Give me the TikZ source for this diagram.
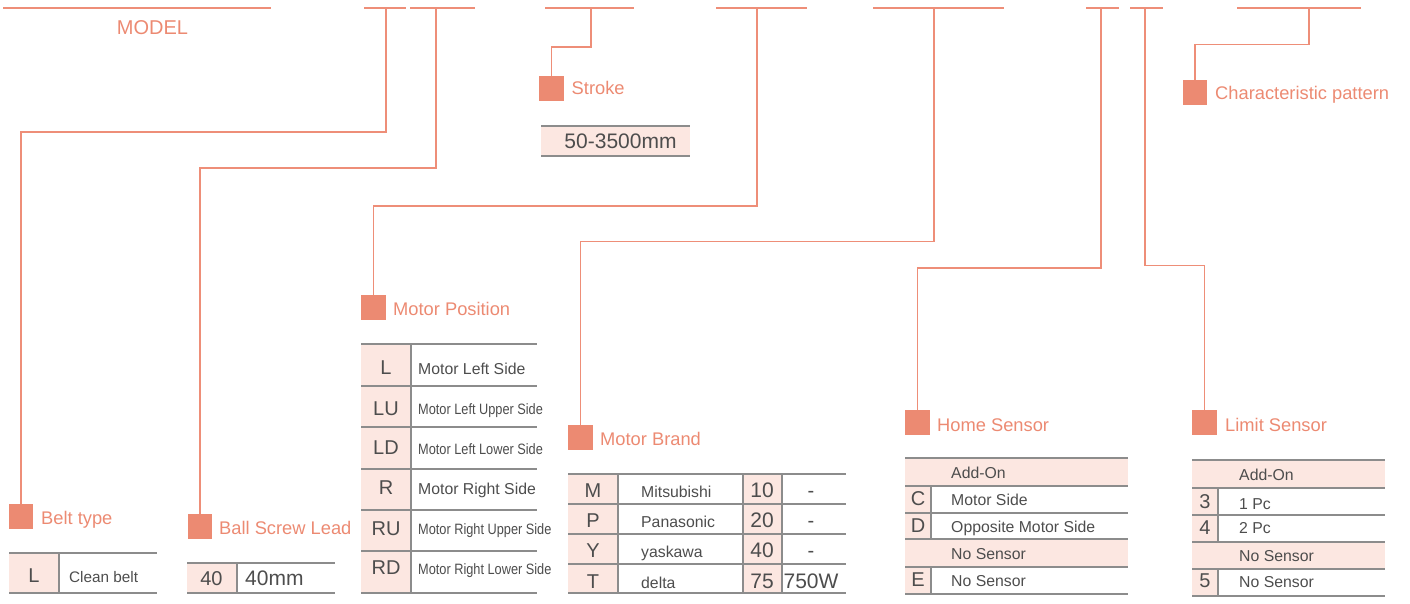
\documentclass[tikz,border=0pt]{standalone}
\usepackage{fontspec}
\setmainfont{Liberation Sans}
\usepackage{graphicx}
\definecolor{sal}{HTML}{EC8A72}
\definecolor{salline}{HTML}{EE8E78}
\definecolor{pinkc}{HTML}{FCE7E1}
\definecolor{grayl}{HTML}{8C8C8C}
\definecolor{txt}{HTML}{4D4D4D}
\tikzset{
  conn/.style={draw=salline, line width=1.5pt},
  topline/.style={draw=salline, line width=1.5pt},
  sq/.style={fill=sal, minimum size=24.5pt, inner sep=0pt, outer sep=0pt},
  lab/.style={text=sal, font=\fontsize{18.3}{20}\selectfont, anchor=base west, inner sep=0pt},
  code/.style={text=txt, font=\fontsize{20}{22}\selectfont, anchor=base, inner sep=0pt},
  desc/.style={text=txt, font=\fontsize{15.8}{17}\selectfont, anchor=base west, inner sep=0pt},
  tl/.style={draw=grayl, line width=1.6pt},
  tk/.style={draw=grayl, line width=2.2pt},
  pk/.style={fill=pinkc},
}
\begin{document}
\begin{tikzpicture}[x=1pt,y=-1pt]
\useasboundingbox (0,0) rectangle (1410,604);

% ---------- top lines ----------
\draw[topline] (3,8) -- (271,8);
\node[text=sal, font=\fontsize{20}{22}\selectfont, anchor=base, inner sep=0pt] (model) at (152.5,35) {MODEL};
\draw[topline] (364,8) -- (406,8);
\draw[topline] (410,8) -- (475,8);
\draw[topline] (545,8) -- (634,8);
\draw[topline] (716,8) -- (807,8);
\draw[topline] (873,8) -- (1004,8);
\draw[topline] (1086,8) -- (1119,8);
\draw[topline] (1130,8) -- (1163,8);
\draw[topline] (1237,8) -- (1361,8);
\coordinate (v1) at (386,8);
\coordinate (v2) at (436,8);
\coordinate (v3) at (591,8);
\coordinate (v4) at (757,8);
\coordinate (v5) at (934,8);
\coordinate (v6) at (1101,8);
\coordinate (v7) at (1145,8);
\coordinate (v8) at (1309,8);

% ---------- label squares ----------
\node[sq] (sqBelt) at (21,516.5) {};
\node[lab] (lbBelt) at (41,524) {Belt type};
\node[sq] (sqBall) at (200,526.5) {};
\node[lab] (lbBall) at (219,534.3) {Ball Screw Lead};
\node[sq] (sqStroke) at (551.5,88.5) {};
\node[lab] (lbStroke) at (571.5,95) {Stroke};
\node[sq] (sqChar) at (1195,92.5) {};
\node[lab] (lbChar) at (1215,100) {Characteristic pattern};
\node[sq] (sqPos) at (373.5,307.5) {};
\node[lab] (lbPos) at (393,315) {Motor Position};
\node[sq] (sqBrand) at (580.5,437.5) {};
\node[lab] (lbBrand) at (600,445) {Motor Brand};
\node[sq] (sqHome) at (917.5,422.5) {};
\node[lab] (lbHome) at (937,431) {Home Sensor};
\node[sq] (sqLim) at (1204.5,422.5) {};
\node[lab] (lbLim) at (1225,431) {Limit Sensor};

% ---------- connectors ----------
\draw[conn] (v1) -- ++(0,124) -| (sqBelt.north);
\draw[conn] (v2) -- ++(0,160) -| (sqBall.north);
\draw[conn] (v3) -- ++(0,39) -| (sqStroke.north);
\draw[conn] (v4) -- ++(0,198) -| (sqPos.north);
\draw[conn] (v5) -- ++(0,233.5) -| (sqBrand.north);
\draw[conn] (v6) -- ++(0,260) -| (sqHome.north);
\draw[conn] (v7) -- ++(0,257.7) -| (sqLim.north);
\draw[conn] (v8) -- ++(0,36.3) -| (sqChar.north);

% ---------- stroke table ----------
\fill[pk] (541,126) rectangle (690,156);
\draw[tl] (541,126) -- (690,126);
\draw[tl] (541,156) -- (690,156);
\node[code, font=\fontsize{21}{23}\selectfont] (st1) at (620.5,148.3) {50-3500mm};

% ---------- belt type table ----------
\fill[pk] (9,553) rectangle (59,593);
\draw[tl] (9,553) -- (157,553);
\draw[tl] (9,593) -- (157,593);
\draw[tl] (59,553) -- (59,593);
\node[code] (bt1) at (34,582) {L};
\node[desc, font=\fontsize{15.3}{17}\selectfont] (bt2) at (69,582) {Clean belt};

% ---------- ball screw table ----------
\fill[pk] (187,563) rectangle (237,593);
\draw[tl] (187,563) -- (335,563);
\draw[tl] (187,593) -- (335,593);
\draw[tl] (237,563) -- (237,593);
\node[code] (bs1) at (211.5,585) {40};
\node[desc, font=\fontsize{21}{23}\selectfont] (bs2) at (245,585) {40mm};

% ---------- motor position table ----------
\fill[pk] (361,344) rectangle (411,593);
\foreach \yy in {344,386,427,469,510,551,593} {\draw[tl] (361,\yy) -- (537,\yy);}
\draw[tl] (411,344) -- (411,593);
\node[code] (mp1) at (386,374) {L};
\node[desc] (mp1d) at (418,374) {Motor Left Side};
\node[code] (mp2) at (386,415) {LU};
\node[desc, font=\fontsize{15}{17}\selectfont] (mp2d) at (418,414) {\scalebox{0.85}[1]{Motor Left Upper Side}};
\node[code] (mp3) at (386,454.5) {LD};
\node[desc, font=\fontsize{15}{17}\selectfont] (mp3d) at (418,454) {\scalebox{0.85}[1]{Motor Left Lower Side}};
\node[code] (mp4) at (386,494) {R};
\node[desc] (mp4d) at (418,494) {Motor Right Side};
\node[code] (mp5) at (386,535) {RU};
\node[desc, font=\fontsize{15}{17}\selectfont] (mp5d) at (418,534) {\scalebox{0.85}[1]{Motor Right Upper Side}};
\node[code] (mp6) at (386,574) {RD};
\node[desc, font=\fontsize{15}{17}\selectfont] (mp6d) at (418,574) {\scalebox{0.85}[1]{Motor Right Lower Side}};

% ---------- motor brand table ----------
\fill[pk] (568,474) rectangle (618,593);
\fill[pk] (743,474) rectangle (782,593);
\foreach \yy in {474,504,534,564,593} {\draw[tl] (568,\yy) -- (846,\yy);}
\draw[tl] (618,474) -- (618,593);
\draw[tl] (743,474) -- (743,593);
\draw[tl] (782,474) -- (782,593);
\node[code] (mb1) at (593,497) {M};
\node[desc] (mb1d) at (641,497) {Mitsubishi};
\node[code, font=\fontsize{21}{23}\selectfont] (mb1n) at (762,497) {10};
\node[code] (mb1w) at (811,497) {-};
\node[code] (mb2) at (593,527) {P};
\node[desc] (mb2d) at (641,527) {Panasonic};
\node[code, font=\fontsize{21}{23}\selectfont] (mb2n) at (762,527) {20};
\node[code] (mb2w) at (811,527) {-};
\node[code] (mb3) at (593,557) {Y};
\node[desc] (mb3d) at (641,557) {yaskawa};
\node[code, font=\fontsize{21}{23}\selectfont] (mb3n) at (762,557) {40};
\node[code] (mb3w) at (811,557) {-};
\node[code] (mb4) at (593,588) {T};
\node[desc] (mb4d) at (641,588) {delta};
\node[code, font=\fontsize{21}{23}\selectfont] (mb4n) at (762,588) {75};
\node[code, font=\fontsize{21}{23}\selectfont] (mb4w) at (811,588) {750W};

% ---------- home sensor table ----------
\fill[pk] (905,458) rectangle (1128,486);
\fill[pk] (905,486) rectangle (931,539);
\fill[pk] (905,539) rectangle (1128,567);
\fill[pk] (905,567) rectangle (931,594);
\draw[tk] (905,458) -- (1128,458);
\draw[tk] (905,486) -- (1128,486);
\draw[tl] (905,513) -- (1128,513);
\draw[tk] (905,539) -- (1128,539);
\draw[tk] (905,567) -- (1128,567);
\draw[tk] (905,594) -- (1128,594);
\draw[tl] (931,486) -- (931,539);
\draw[tl] (931,567) -- (931,594);
\node[desc] (hs0) at (951,478) {Add-On};
\node[code] (hs1) at (918,505) {C};
\node[desc] (hs1d) at (951,505) {Motor Side};
\node[code] (hs2) at (918,532) {D};
\node[desc] (hs2d) at (951,532) {Opposite Motor Side};
\node[desc] (hs3) at (951,559) {No Sensor};
\node[code] (hs4) at (918,586) {E};
\node[desc] (hs4d) at (951,586) {No Sensor};

% ---------- limit sensor table ----------
\fill[pk] (1192,460) rectangle (1385,488);
\fill[pk] (1192,488) rectangle (1218,542);
\fill[pk] (1192,542) rectangle (1385,569);
\fill[pk] (1192,569) rectangle (1218,596);
\draw[tk] (1192,460) -- (1385,460);
\draw[tk] (1192,488) -- (1385,488);
\draw[tl] (1192,515) -- (1385,515);
\draw[tk] (1192,542) -- (1385,542);
\draw[tk] (1192,569) -- (1385,569);
\draw[tk] (1192,596) -- (1385,596);
\draw[tl] (1218,488) -- (1218,542);
\draw[tl] (1218,569) -- (1218,596);
\node[desc] (ls0) at (1239,480) {Add-On};
\node[code] (ls1) at (1205,508) {3};
\node[desc] (ls1d) at (1239,509) {1 Pc};
\node[code] (ls2) at (1205,534) {4};
\node[desc] (ls2d) at (1239,533) {2 Pc};
\node[desc] (ls3) at (1239,561) {No Sensor};
\node[code] (ls4) at (1205,587) {5};
\node[desc] (ls4d) at (1239,587) {No Sensor};
\end{tikzpicture}
\end{document}
